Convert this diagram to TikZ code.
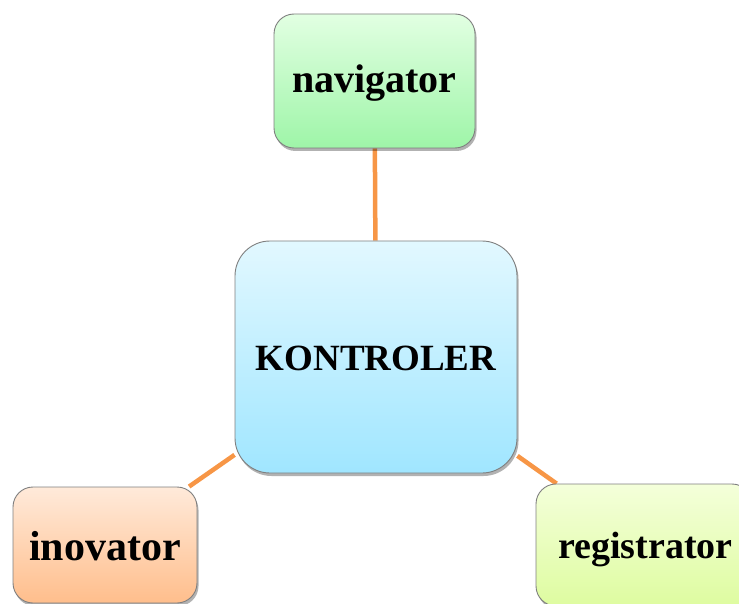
\documentclass[tikz,border=0pt]{standalone}
\usepackage{fontspec}
\setmainfont{Liberation Serif}
\usetikzlibrary{shadows,backgrounds}
\definecolor{linkorange}{HTML}{F79646}
\definecolor{boxborder}{HTML}{7F7F7F}
\newcommand{\lowerby}[2]{\raisebox{-#1}[\height][\depth]{#2}}
\tikzset{
  box/.style={draw=boxborder, line width=0.9pt, rounded corners=#1, inner sep=0pt,
    font=\bfseries, text=black,
    drop shadow={shadow xshift=1.5pt, shadow yshift=-3pt, opacity=0.3, fill=black}},
  link/.style={draw=linkorange, line width=4.5pt}
}
\begin{document}
\begin{tikzpicture}[x=1pt,y=-1pt]
\useasboundingbox (0,0) rectangle (739,604);
\node[box=20pt, minimum width=201pt, minimum height=134pt,
  top color={rgb,255:red,226;green,255;blue,226}, bottom color={rgb,255:red,158;green,245;blue,168}]
  (nav) at (374.5,81) {\fontsize{40}{40}\selectfont\lowerby{2pt}{navigator}};
\node[box=35pt, minimum width=282pt, minimum height=232pt,
  top color={rgb,255:red,226;green,248;blue,255}, bottom color={rgb,255:red,160;green,230;blue,255}]
  (kon) at (376,357) {\fontsize{37}{37}\selectfont\lowerby{1pt}{KONTROLER}};
\node[box=20pt, minimum width=184pt, minimum height=116pt,
  top color={rgb,255:red,255;green,234;blue,218}, bottom color={rgb,255:red,255;green,190;blue,140}]
  (ino) at (105,545) {\fontsize{42}{42}\selectfont\lowerby{1pt}{inovator}};
\node[box=20pt, minimum width=216pt, minimum height=122pt,
  top color={rgb,255:red,244;green,255;blue,218}, bottom color={rgb,255:red,222;green,252;blue,160}]
  (reg) at (644,545) {\fontsize{38}{38}\selectfont\lowerby{5pt}{\hspace*{3pt}registrator}};
\begin{scope}[on background layer]
\draw[link] (nav) -- (kon);
\draw[link] (kon) -- (ino);
\draw[link] (kon) -- (reg);
\end{scope}
\end{tikzpicture}
\end{document}
